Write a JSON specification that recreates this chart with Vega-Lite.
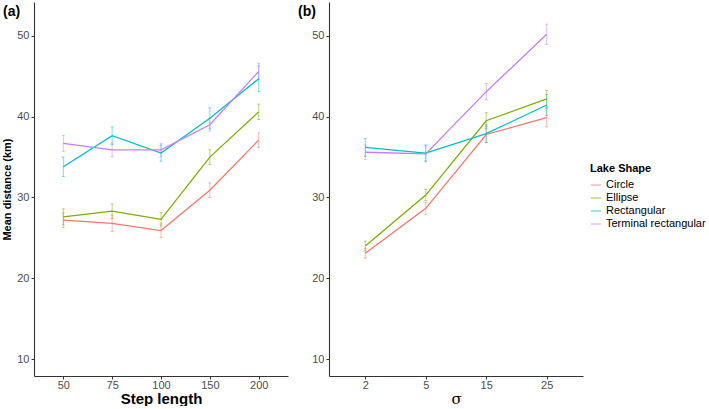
{
  "$schema": "https://vega.github.io/schema/vega-lite/v6.json",
  "background": "white",
  "padding": {"left": 1, "top": 2, "right": 2, "bottom": 0},
  "config": {
    "view": {"stroke": null},
    "font": "Liberation Sans",
    "axis": {"grid": false, "domainColor": "#333333", "tickColor": "#333333", "labelColor": "#4D4D4D", "labelFontSize": 11, "labelFont": "Liberation Sans", "tickSize": 3, "labelPadding": 2, "titleColor": "black", "domainWidth": 1.1},
    "title": {"fontSize": 14, "fontWeight": "bold", "color": "black", "font": "Liberation Sans"}
  },
  "datasets": {
    "d": [
      {"panel": "a", "x": "50", "shape": "Circle", "mean": 27.2, "se": 0.9},
      {"panel": "a", "x": "75", "shape": "Circle", "mean": 26.8, "se": 1.0},
      {"panel": "a", "x": "100", "shape": "Circle", "mean": 25.9, "se": 0.85},
      {"panel": "a", "x": "150", "shape": "Circle", "mean": 30.9, "se": 0.9},
      {"panel": "a", "x": "200", "shape": "Circle", "mean": 37.1, "se": 0.9},
      {"panel": "a", "x": "50", "shape": "Ellipse", "mean": 27.6, "se": 1.0},
      {"panel": "a", "x": "75", "shape": "Ellipse", "mean": 28.3, "se": 0.9},
      {"panel": "a", "x": "100", "shape": "Ellipse", "mean": 27.3, "se": 0.85},
      {"panel": "a", "x": "150", "shape": "Ellipse", "mean": 35.0, "se": 0.9},
      {"panel": "a", "x": "200", "shape": "Ellipse", "mean": 40.6, "se": 0.95},
      {"panel": "a", "x": "50", "shape": "Rectangular", "mean": 33.8, "se": 1.2},
      {"panel": "a", "x": "75", "shape": "Rectangular", "mean": 37.65, "se": 1.1},
      {"panel": "a", "x": "100", "shape": "Rectangular", "mean": 35.5, "se": 1.0},
      {"panel": "a", "x": "150", "shape": "Rectangular", "mean": 39.8, "se": 1.3},
      {"panel": "a", "x": "200", "shape": "Rectangular", "mean": 44.7, "se": 1.6},
      {"panel": "a", "x": "50", "shape": "Terminal rectangular", "mean": 36.7, "se": 1.0},
      {"panel": "a", "x": "75", "shape": "Terminal rectangular", "mean": 35.9, "se": 0.85},
      {"panel": "a", "x": "100", "shape": "Terminal rectangular", "mean": 35.9, "se": 0.8},
      {"panel": "a", "x": "150", "shape": "Terminal rectangular", "mean": 39.0, "se": 0.8},
      {"panel": "a", "x": "200", "shape": "Terminal rectangular", "mean": 45.6, "se": 1.0},
      {"panel": "b", "x": "2", "shape": "Circle", "mean": 23.1, "se": 0.6},
      {"panel": "b", "x": "5", "shape": "Circle", "mean": 28.65, "se": 0.75},
      {"panel": "b", "x": "15", "shape": "Circle", "mean": 37.8, "se": 1.0},
      {"panel": "b", "x": "25", "shape": "Circle", "mean": 39.9, "se": 1.15},
      {"panel": "b", "x": "2", "shape": "Ellipse", "mean": 24.0, "se": 0.6},
      {"panel": "b", "x": "5", "shape": "Ellipse", "mean": 30.3, "se": 0.7},
      {"panel": "b", "x": "15", "shape": "Ellipse", "mean": 39.5, "se": 1.0},
      {"panel": "b", "x": "25", "shape": "Ellipse", "mean": 42.2, "se": 1.05},
      {"panel": "b", "x": "2", "shape": "Rectangular", "mean": 36.2, "se": 1.1},
      {"panel": "b", "x": "5", "shape": "Rectangular", "mean": 35.5, "se": 1.0},
      {"panel": "b", "x": "15", "shape": "Rectangular", "mean": 37.9, "se": 1.1},
      {"panel": "b", "x": "25", "shape": "Rectangular", "mean": 41.45, "se": 1.3},
      {"panel": "b", "x": "2", "shape": "Terminal rectangular", "mean": 35.6, "se": 0.9},
      {"panel": "b", "x": "5", "shape": "Terminal rectangular", "mean": 35.4, "se": 1.0},
      {"panel": "b", "x": "15", "shape": "Terminal rectangular", "mean": 43.1, "se": 1.0},
      {"panel": "b", "x": "25", "shape": "Terminal rectangular", "mean": 50.2, "se": 1.25}
    ]
  },
  "spacing": 41,
  "bounds": "flush",
  "resolve": {"scale": {"color": "shared"}},
  "hconcat": [
    {
      "width": 254,
      "height": 374,
      "title": {"text": "(a)", "anchor": "start", "frame": "group", "offset": 0, "dx": -31, "dy": 17},
      "data": {"name": "d"},
      "transform": [{"filter": "datum.panel == 'a'"}],
      "encoding": {
        "x": {"field": "x", "type": "ordinal", "scale": {"type": "point", "domain": ["50", "75", "100", "150", "200"], "padding": 0.6},
              "axis": {"labelAngle": 0, "labelPadding": 0, "title": "Step length", "titleFontSize": 15, "titleFontWeight": "bold", "titlePadding": 1}},
        "y": {"field": "mean", "type": "quantitative", "scale": {"domain": [7.9, 54.2], "nice": false, "zero": false},
              "axis": {"values": [10, 20, 30, 40, 50], "title": "Mean distance (km)", "titleFontSize": 11, "titleFontWeight": "bold", "titlePadding": 4}},
        "color": {"field": "shape", "type": "nominal",
                  "scale": {"domain": ["Circle", "Ellipse", "Rectangular", "Terminal rectangular"], "range": ["#F8766D", "#7CAE00", "#00BFC4", "#C77CFF"]},
                  "legend": {"title": "Lake Shape", "orient": "none", "legendX": 556, "legendY": 161, "symbolType": "stroke", "symbolStrokeWidth": 1.5, "symbolSize": 110, "titleFontSize": 11, "titleFontWeight": "bold", "titleColor": "black", "labelFontSize": 11, "labelColor": "black", "rowPadding": 2, "titlePadding": 5}}
      },
      "layer": [
        {"mark": {"type": "errorbar", "ticks": {"size": 3}, "opacity": 0.5, "thickness": 1}, "encoding": {"yError": {"field": "se"}}},
        {"mark": {"type": "line", "strokeWidth": 1.3}}
      ]
    },
    {
      "width": 254,
      "height": 374,
      "title": {"text": "(b)", "anchor": "start", "frame": "group", "offset": 0, "dx": -31, "dy": 17},
      "data": {"name": "d"},
      "transform": [{"filter": "datum.panel == 'b'"}],
      "encoding": {
        "x": {"field": "x", "type": "ordinal", "scale": {"type": "point", "domain": ["2", "5", "15", "25"], "padding": 0.6},
              "axis": {"labelAngle": 0, "labelPadding": 0, "title": "σ", "titleFontSize": 15, "titleFontWeight": "normal", "titleFont": "DejaVu Serif", "titlePadding": 1}},
        "y": {"field": "mean", "type": "quantitative", "scale": {"domain": [7.9, 54.2], "nice": false, "zero": false},
              "axis": {"values": [10, 20, 30, 40, 50], "title": null}},
        "color": {"field": "shape", "type": "nominal"}
      },
      "layer": [
        {"mark": {"type": "errorbar", "ticks": {"size": 3}, "opacity": 0.5, "thickness": 1}, "encoding": {"yError": {"field": "se"}}},
        {"mark": {"type": "line", "strokeWidth": 1.3}}
      ]
    }
  ]
}
